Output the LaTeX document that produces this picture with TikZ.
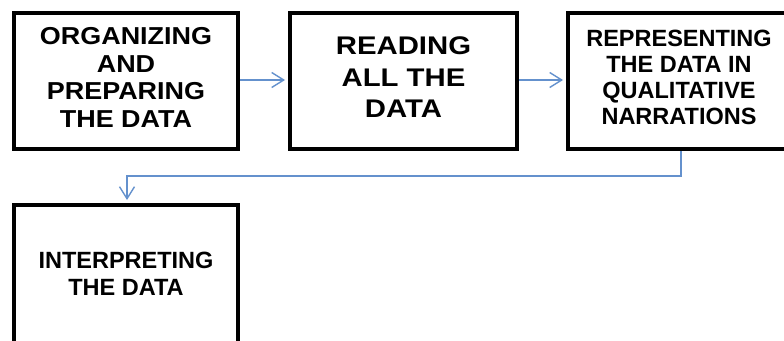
\documentclass[tikz,border=0pt]{standalone}
\usepackage{fontspec}
\usetikzlibrary{arrows.meta}
\newfontfamily\wideA[FakeStretch=1.1]{Liberation Sans}
\newfontfamily\wideB[FakeStretch=1.15]{Liberation Sans}
\newfontfamily\plainC{Liberation Sans}
\definecolor{flow}{RGB}{100,145,205}
\tikzset{
  stage/.style={draw=black, line width=4pt, fill=white, align=center, inner sep=0pt},
  flowline/.style={draw=flow, line width=1.4pt, -{Straight Barb[length=12pt,width=15pt,line width=1.4pt]}, shorten >=3pt},
}
\begin{document}
\begin{tikzpicture}[x=1pt, y=-1pt]
\clip (0,0) rectangle (784,340);
\fill[white] (0,0) rectangle (784,340);
\node[stage, minimum width=224pt, minimum height=136pt, font=\wideA\bfseries\fontsize{24.5}{27.7}\selectfont] (b1) at (126,81)
  {ORGANIZING\\AND\\PREPARING\\THE DATA\rule[-7pt]{0pt}{0pt}};
\node[stage, minimum width=227pt, minimum height=136pt, font=\wideB\bfseries\fontsize{25.5}{31.5}\selectfont] (b2) at (403.5,81)
  {READING\\ALL THE\\DATA\rule[-7pt]{0pt}{0pt}};
\node[stage, minimum width=222pt, minimum height=136pt, font=\plainC\bfseries\fontsize{23.5}{26}\selectfont] (b3) at (679,81)
  {REPRESENTING\\THE DATA IN\\QUALITATIVE\\NARRATIONS\rule[-7pt]{0pt}{0pt}};
\node[stage, minimum width=224pt, minimum height=144pt, font=\plainC\bfseries\fontsize{23.5}{27}\selectfont] (b4) at (126,277)
  {INTERPRETING\\THE DATA\rule[-6pt]{0pt}{0pt}};
\draw[flowline] (b1.east |- 0,80) -- (b2.west |- 0,80);
\draw[flowline] (b2.east |- 0,80) -- (b3.west |- 0,80);
\coordinate (c1) at (681,176);
\coordinate (c2) at (127,176);
\draw[flowline] (b3.south -| c1) -- (c1) -- (c2) -- (b4.north -| c2);
\end{tikzpicture}
\end{document}
